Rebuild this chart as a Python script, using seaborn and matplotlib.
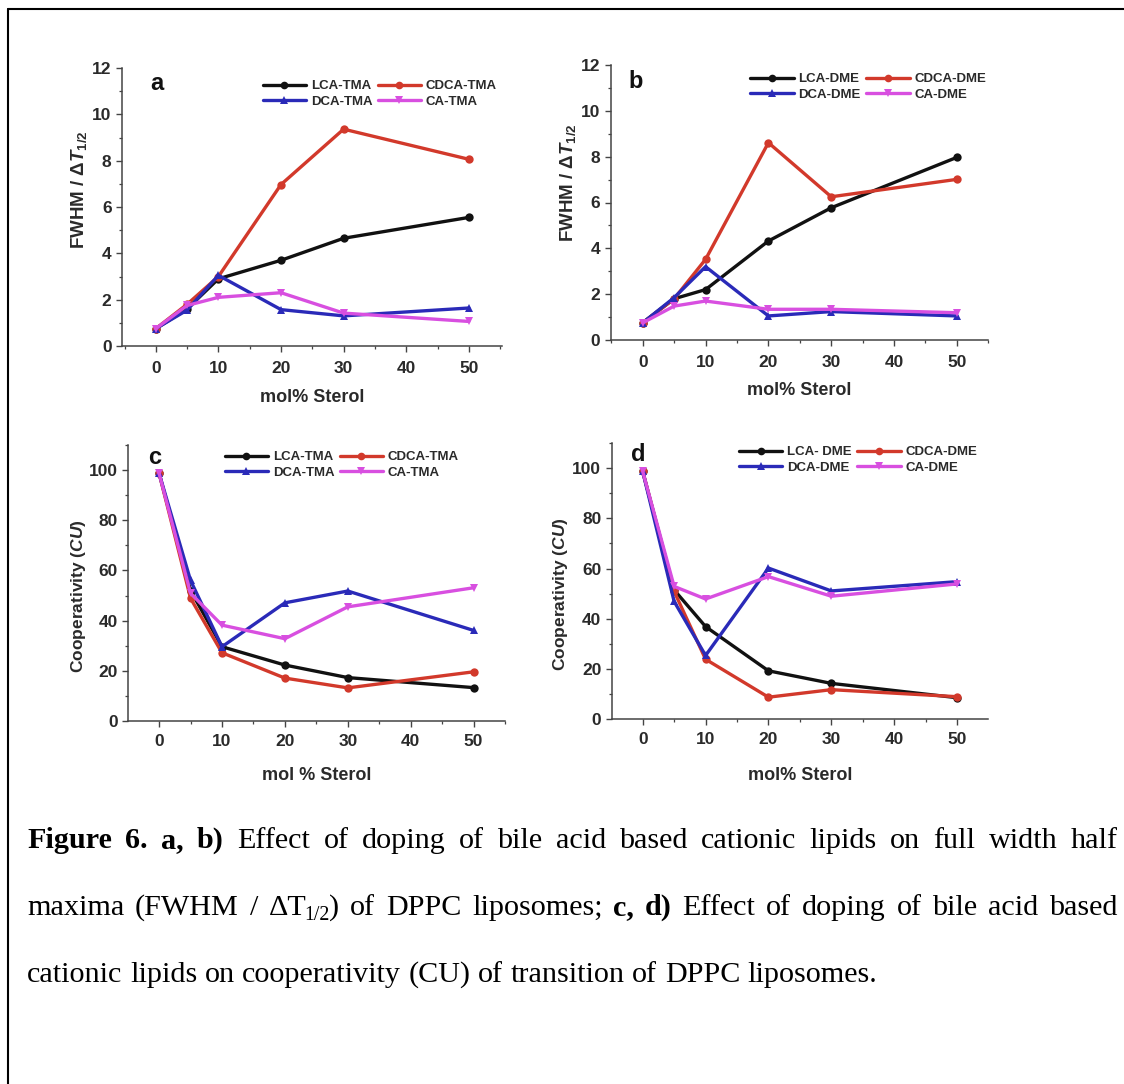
import matplotlib
matplotlib.use('Agg')
import matplotlib.pyplot as plt
import seaborn as sns
import pandas as pd
from matplotlib.ticker import MultipleLocator
from matplotlib.lines import Line2D

# ---------------- data ----------------
x_mol = [0, 5, 10, 20, 30, 50]

a_labels = ["LCA-TMA", "CDCA-TMA", "DCA-TMA", "CA-TMA"]
a_lca = [0.75, 1.6, 2.9, 3.7, 4.65, 5.55]
a_cdca = [0.75, 1.8, 3.0, 6.97, 9.36, 8.06]
a_dca = [0.75, 1.55, 3.05, 1.57, 1.3, 1.64]
a_ca = [0.75, 1.75, 2.1, 2.3, 1.42, 1.06]

b_labels = ["LCA-DME", "CDCA-DME", "DCA-DME", "CA-DME"]
b_lca = [0.76, 1.8, 2.2, 4.32, 5.77, 7.97]
b_cdca = [0.75, 1.8, 3.52, 8.61, 6.25, 7.01]
b_dca = [0.75, 1.85, 3.2, 1.05, 1.24, 1.05]
b_ca = [0.75, 1.48, 1.7, 1.34, 1.34, 1.19]

c_labels = ["LCA-TMA", "CDCA-TMA", "DCA-TMA", "CA-TMA"]
c_lca = [98.7, 52.0, 29.6, 22.3, 17.3, 13.3]
c_cdca = [98.7, 48.9, 27.2, 17.1, 13.2, 19.6]
c_dca = [98.7, 56.0, 29.6, 47.1, 51.8, 36.1]
c_ca = [98.7, 50.9, 38.2, 32.8, 45.5, 53.1]

d_labels = ["LCA- DME", "CDCA-DME", "DCA-DME", "CA-DME"]
d_lca = [98.7, 51.5, 36.9, 19.3, 14.3, 8.6]
d_cdca = [98.7, 50.9, 23.9, 8.8, 11.8, 9.0]
d_dca = [98.7, 46.9, 25.4, 60.2, 51.1, 54.8]
d_ca = [98.7, 52.9, 47.9, 56.8, 49.0, 53.9]

x_ticks = [0, 10, 20, 30, 40, 50]
fwhm_ticks = [0, 2, 4, 6, 8, 10, 12]
cu_ticks = [0, 20, 40, 60, 80, 100]

colors = ["#111111", "#d2392b", "#2a2ab8", "#d84fe0"]
markers = ["o", "o", "^", "v"]

# ---------------- style ----------------
sns.set_style("ticks")
plt.rcParams['font.family'] = ['Liberation Sans', 'DejaVu Sans']
plt.rcParams['font.weight'] = 'bold'
plt.rcParams['mathtext.fontset'] = 'custom'
plt.rcParams['mathtext.rm'] = 'Liberation Sans:bold'
plt.rcParams['mathtext.it'] = 'Liberation Sans:italic:bold'
plt.rcParams['mathtext.bf'] = 'Liberation Sans:bold'
TXT = "#2a2a2a"
SP = "#444444"

W, H = 1124, 1084
fig = plt.figure(figsize=(W / 100, H / 100), dpi=100)
fig.patch.set_facecolor("white")


def rect(l, r, t, b):
    return [l / W, 1 - b / H, (r - l) / W, (b - t) / H]


panels = [
    dict(rect=(122, 502, 68, 346), xlim=(-5.4, 55.3), ylim=(0, 12), yticks=fwhm_ticks, ymin=1,
         ylabel=r'FWHM / $\Delta\mathit{T}_{1/2}$', ylc=(-0.112, 0.561), ylfs=13.5,
         xlabel='mol% Sterol', xly=-0.187, letter='a', lxy=(157, 83),
         leg=(497, 80), labels=a_labels, series=[a_lca, a_cdca, a_dca, a_ca], xpad=7),
    dict(rect=(610.7, 988.3, 65, 340), xlim=(-5.1, 55.0), ylim=(0, 12), yticks=fwhm_ticks, ymin=1,
         ylabel=r'FWHM / $\Delta\mathit{T}_{1/2}$', ylc=(-0.113, 0.571), ylfs=13.5,
         xlabel='mol% Sterol', xly=-0.185, letter='b', lxy=(636, 82),
         leg=(986, 73), labels=b_labels, series=[b_lca, b_cdca, b_dca, b_ca], xpad=6.5),
    dict(rect=(128.3, 505, 445, 721), xlim=(-4.9, 55.0), ylim=(0, 110), yticks=cu_ticks, ymin=10,
         ylabel=r'Cooperativity ($\mathit{CU}$)', ylc=(-0.1335, 0.453), ylfs=12.5,
         xlabel='mol % Sterol', xly=-0.199, letter='c', lxy=(155, 457),
         leg=(459, 451), labels=c_labels, series=[c_lca, c_cdca, c_dca, c_ca], xpad=5.5),
    dict(rect=(611.7, 988.3, 443, 719.3), xlim=(-4.93, 54.96), ylim=(0, 110), yticks=cu_ticks, ymin=10,
         ylabel=r'Cooperativity ($\mathit{CU}$)', ylc=(-0.137, 0.453), ylfs=12.5,
         xlabel='mol% Sterol', xly=-0.202, letter='d', lxy=(638, 455),
         leg=(977, 446), labels=d_labels, series=[d_lca, d_cdca, d_dca, d_ca], xpad=5.5),
]

for p in panels:
    ax = fig.add_axes(rect(*p['rect']))
    labs = p['labels']
    rows = []
    for lab, vals in zip(labs, p['series']):
        for xv, yv in zip(x_mol, vals):
            rows.append(dict(x=xv, y=yv, series=lab))
    df = pd.DataFrame(rows)
    sns.lineplot(data=df, x='x', y='y', hue='series', style='series',
                 hue_order=labs, style_order=labs,
                 palette=dict(zip(labs, colors)), markers=dict(zip(labs, markers)),
                 dashes=False, lw=2.4, markersize=6, markeredgewidth=0,
                 legend=False, ax=ax, estimator=None, sort=True)
    ax.set_xlim(*p['xlim'])
    ax.set_ylim(*p['ylim'])
    ax.set_xticks(x_ticks)
    ax.set_yticks(p['yticks'])
    ax.xaxis.set_minor_locator(MultipleLocator(5))
    ax.yaxis.set_minor_locator(MultipleLocator(p['ymin']))
    sns.despine(ax=ax)
    for s in ('left', 'bottom'):
        ax.spines[s].set_color(SP)
        ax.spines[s].set_linewidth(1.1)
    ax.tick_params(which='major', direction='out', length=4, width=1.0, color=SP,
                   labelsize=12.5, labelcolor=TXT)
    ax.tick_params(axis='x', which='major', pad=p['xpad'])
    ax.tick_params(axis='y', which='major', pad=3.5)
    ax.tick_params(which='minor', direction='out', length=2.5, width=0.9, color=SP)

    ax.set_xlabel(p['xlabel'], fontsize=13, color=TXT, fontweight='bold')
    ax.xaxis.set_label_coords(0.5, p['xly'])
    ax.xaxis.label.set_va('center')
    ax.set_ylabel(p['ylabel'], fontsize=p['ylfs'], color=TXT, fontweight='bold')
    ax.yaxis.set_label_coords(*p['ylc'])
    ax.yaxis.label.set_va('center')

    handles = {lab: Line2D([], [], color=c, marker=m, lw=2.4, markersize=5.5, mew=0)
               for lab, c, m in zip(labs, colors, markers)}
    order = [labs[0], labs[2], labs[1], labs[3]]
    lx, ly = p['leg']
    ax.legend([handles[k] for k in order], order, ncol=2, frameon=False,
              loc='upper right', bbox_to_anchor=(lx / W, 1 - ly / H),
              bbox_transform=fig.transFigure, borderpad=0, borderaxespad=0,
              fontsize=9.5, handlelength=3.3, handletextpad=0.35,
              columnspacing=0.4, labelspacing=0.25, labelcolor=TXT)

    fig.text(p['lxy'][0] / W, 1 - p['lxy'][1] / H, p['letter'], ha='center', va='center',
             fontsize=17, fontweight='bold', color='#111111')

# ---------------- frame lines ----------------
fig.add_artist(Line2D([8 / W, 8 / W], [0, 1 - 9 / H], color='black', lw=1.5,
                      transform=fig.transFigure))
fig.add_artist(Line2D([8 / W, 1], [1 - 9 / H, 1 - 9 / H], color='black', lw=1.5,
                      transform=fig.transFigure))

# ---------------- caption (justified) ----------------
fig.canvas.draw()
renderer = fig.canvas.get_renderer()
SERIF = ['Liberation Serif', 'DejaVu Serif']


def measure(s, weight, size):
    t = fig.text(0, 0, s, fontsize=size, fontweight=weight, family=SERIF)
    w = t.get_window_extent(renderer).width
    t.remove()
    return w


def words_from_runs(runs):
    words = []
    for r in runs:
        if isinstance(r, list):
            words.append(r)
        else:
            txt, wt = r
            for wd in txt.split(' '):
                words.append([(wd, wt, 1.0, 0, 0)])
    return words


line1 = [("Figure 6. a, b)", 'bold'),
         ("Effect of doping of bile acid based cationic lipids on full width half", 'normal')]
line2 = [("maxima (FWHM /", 'normal'),
         [("\u0394T", 'normal', 1.0, 0, -2.5), ("1/2", 'normal', 0.66, -5, -0.5),
          (")", 'normal', 1.0, 0, 0)],
         ("of DPPC liposomes;", 'normal'), ("c, d)", 'bold'),
         ("Effect of doping of bile acid based", 'normal')]
line3 = [("cationic lipids on cooperativity (CU) of transition of DPPC liposomes.", 'normal')]

X0, X1 = 27, 1118
base = 18.0


def word_width(word, size):
    return sum(measure(t, wt, size * sc) + adj for t, wt, sc, dy, adj in word)


# fit font size so line 3 spans ~850 px
w3 = words_from_runs(line3)
sp = measure("a b", 'normal', base) - measure("ab", 'normal', base)
nat = sum(word_width(w, base) for w in w3) + sp * (len(w3) - 1)
size = base * 850 / nat
sp = measure("a b", 'normal', size) - measure("ab", 'normal', size)


def place_line(runs, baseline, justify):
    words = words_from_runs(runs)
    widths = [word_width(w, size) for w in words]
    if justify:
        gap = (X1 - X0 - sum(widths)) / (len(words) - 1)
    else:
        gap = sp
    x = X0
    for w, wd in zip(words, widths):
        xx = x
        for t, wt, sc, dy, adj in w:
            fig.text(xx / W, 1 - (baseline - dy) / H, t, fontsize=size * sc, fontweight=wt,
                     family=SERIF, ha='left', va='baseline', color='black')
            xx += measure(t, wt, size * sc) + adj
        x += wd + gap


place_line(line1, 848, True)
place_line(line2, 915, True)
place_line(line3, 981.7, False)

fig.savefig("out.png", dpi=100, facecolor='white')
